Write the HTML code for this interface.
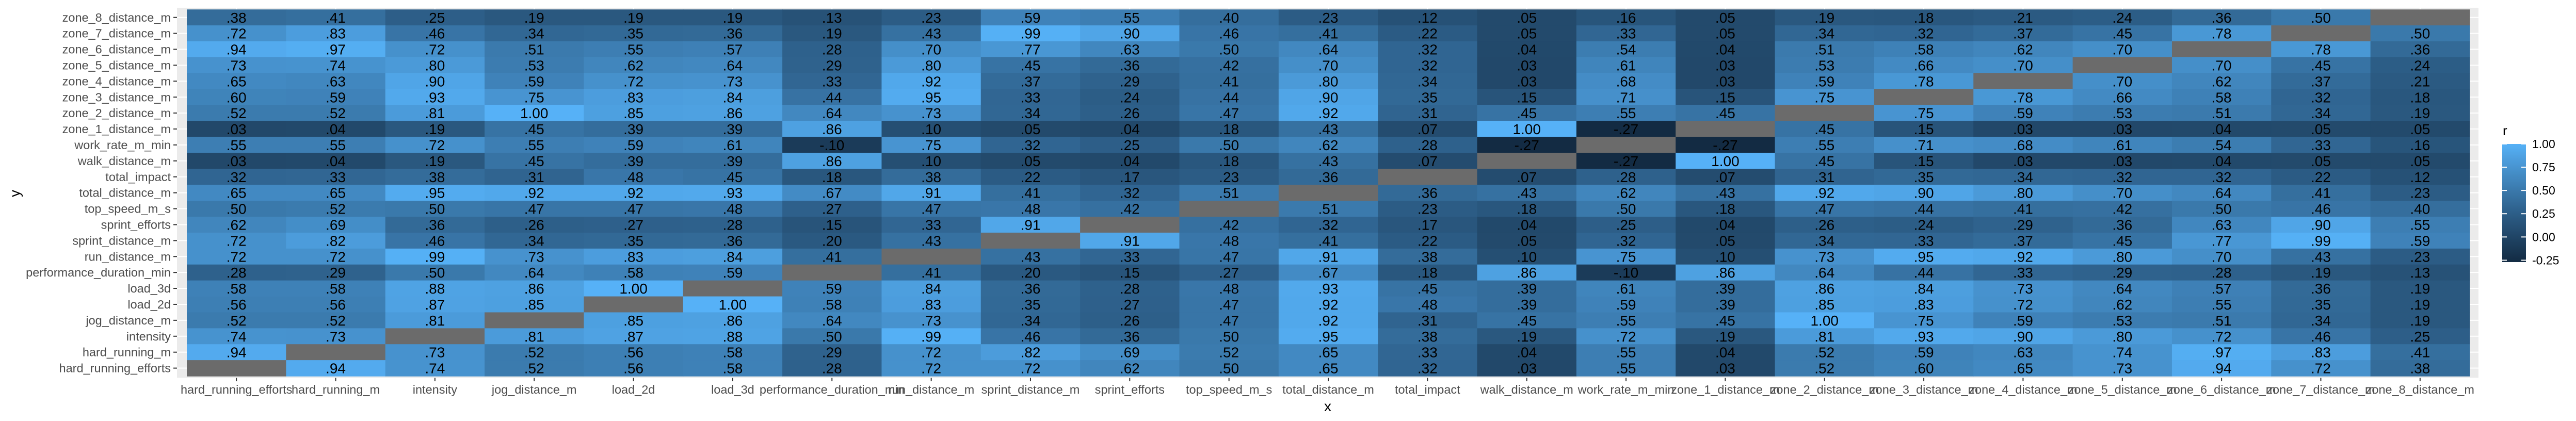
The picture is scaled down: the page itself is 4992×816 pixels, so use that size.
<!DOCTYPE html>
<html>
<head>
<meta charset="utf-8">
<style>
  html,body{margin:0;padding:0;background:#fff;}
  svg{display:block;}
  text{font-family:"Liberation Sans",sans-serif;}
</style>
</head>
<body>
<svg id="chart" width="4992" height="816" viewBox="0 0 4992 816" xmlns="http://www.w3.org/2000/svg">
  <rect x="0" y="0" width="4992" height="816" fill="#ffffff"/>
  <rect x="343" y="15" width="4460" height="717" fill="#EBEBEB"/>
  <g id="grid"></g>
  <g id="tiles"></g>
  <g id="labels"></g>
  <g id="xaxis"></g>
  <g id="yaxis"></g>
  <text x="2573" y="797" font-size="28" fill="#000" text-anchor="middle">x</text>
  <text x="38" y="375" font-size="28" fill="#000" text-anchor="middle" transform="rotate(-90 38 375)">y</text>
  <g id="legend">
    <text x="4850" y="262" font-size="26" fill="#000">r</text>
    <defs>
      <linearGradient id="lg" x1="0" y1="1" x2="0" y2="0"></linearGradient>
    </defs>
    <rect id="legendBar" x="4849" y="279" width="46" height="229" fill="url(#lg)"/>
  </g>
</svg>
<script>
const xLabels = ["hard_running_efforts","hard_running_m","intensity","jog_distance_m","load_2d","load_3d","performance_duration_min","run_distance_m","sprint_distance_m","sprint_efforts","top_speed_m_s","total_distance_m","total_impact","walk_distance_m","work_rate_m_min","zone_1_distance_m","zone_2_distance_m","zone_3_distance_m","zone_4_distance_m","zone_5_distance_m","zone_6_distance_m","zone_7_distance_m","zone_8_distance_m"];
const yLabels = ["zone_8_distance_m","zone_7_distance_m","zone_6_distance_m","zone_5_distance_m","zone_4_distance_m","zone_3_distance_m","zone_2_distance_m","zone_1_distance_m","work_rate_m_min","walk_distance_m","total_impact","total_distance_m","top_speed_m_s","sprint_efforts","sprint_distance_m","run_distance_m","performance_duration_min","load_3d","load_2d","jog_distance_m","intensity","hard_running_m","hard_running_efforts"];
const rowZone8 = [.38,.41,.25,.19,.19,.19,.13,.23,.59,.55,.40,.23,.12,.05,.16,.05,.19,.18,.21,.24,.36,.50,null];
const rowZone7 = [.72,.83,.46,.34,.35,.36,.19,.43,.99,.90,.46,.41,.22,.05,.33,.05,.34,.32,.37,.45,.78,null,.50];
const rowZone6 = [.94,.97,.72,.51,.55,.57,.28,.70,.77,.63,.50,.64,.32,.04,.54,.04,.51,.58,.62,.70,null,.78,.36];
const rowZone5 = [.73,.74,.80,.53,.62,.64,.29,.80,.45,.36,.42,.70,.32,.03,.61,.03,.53,.66,.70,null,.70,.45,.24];
const rowZone4 = [.65,.63,.90,.59,.72,.73,.33,.92,.37,.29,.41,.80,.34,.03,.68,.03,.59,.78,null,.70,.62,.37,.21];
const rowZone3 = [.60,.59,.93,.75,.83,.84,.44,.95,.33,.24,.44,.90,.35,.15,.71,.15,.75,null,.78,.66,.58,.32,.18];
const rowZone2 = [.52,.52,.81,1.00,.85,.86,.64,.73,.34,.26,.47,.92,.31,.45,.55,.45,null,.75,.59,.53,.51,.34,.19];
const rowZone1 = [.03,.04,.19,.45,.39,.39,.86,.10,.05,.04,.18,.43,.07,1.00,-.27,null,.45,.15,.03,.03,.04,.05,.05];
const rowWorkRate = [.55,.55,.72,.55,.59,.61,-.10,.75,.32,.25,.50,.62,.28,-.27,null,-.27,.55,.71,.68,.61,.54,.33,.16];
const rowWalk = [.03,.04,.19,.45,.39,.39,.86,.10,.05,.04,.18,.43,.07,null,-.27,1.00,.45,.15,.03,.03,.04,.05,.05];
const rowTotalImpact = [.32,.33,.38,.31,.48,.45,.18,.38,.22,.17,.23,.36,null,.07,.28,.07,.31,.35,.34,.32,.32,.22,.12];
const rowTotalDistance = [.65,.65,.95,.92,.92,.93,.67,.91,.41,.32,.51,null,.36,.43,.62,.43,.92,.90,.80,.70,.64,.41,.23];
const rowTopSpeed = [.50,.52,.50,.47,.47,.48,.27,.47,.48,.42,null,.51,.23,.18,.50,.18,.47,.44,.41,.42,.50,.46,.40];
const rowSprintEfforts = [.62,.69,.36,.26,.27,.28,.15,.33,.91,null,.42,.32,.17,.04,.25,.04,.26,.24,.29,.36,.63,.90,.55];
const rowSprintDistance = [.72,.82,.46,.34,.35,.36,.20,.43,null,.91,.48,.41,.22,.05,.32,.05,.34,.33,.37,.45,.77,.99,.59];
const rowRunDistance = [.72,.72,.99,.73,.83,.84,.41,null,.43,.33,.47,.91,.38,.10,.75,.10,.73,.95,.92,.80,.70,.43,.23];
const rowPerfDuration = [.28,.29,.50,.64,.58,.59,null,.41,.20,.15,.27,.67,.18,.86,-.10,.86,.64,.44,.33,.29,.28,.19,.13];
const rowLoad3d = [.58,.58,.88,.86,1.00,null,.59,.84,.36,.28,.48,.93,.45,.39,.61,.39,.86,.84,.73,.64,.57,.36,.19];
const rowLoad2d = [.56,.56,.87,.85,null,1.00,.58,.83,.35,.27,.47,.92,.48,.39,.59,.39,.85,.83,.72,.62,.55,.35,.19];
const rowJog = [.52,.52,.81,null,.85,.86,.64,.73,.34,.26,.47,.92,.31,.45,.55,.45,1.00,.75,.59,.53,.51,.34,.19];
const rowIntensity = [.74,.73,null,.81,.87,.88,.50,.99,.46,.36,.50,.95,.38,.19,.72,.19,.81,.93,.90,.80,.72,.46,.25];
const rowHardRunningM = [.94,null,.73,.52,.56,.58,.29,.72,.82,.69,.52,.65,.33,.04,.55,.04,.52,.59,.63,.74,.97,.83,.41];
const rowHardRunningEfforts = [null,.94,.74,.52,.56,.58,.28,.72,.72,.62,.50,.65,.32,.03,.55,.03,.52,.60,.65,.73,.94,.72,.38];
const legendBreaks = [-0.25,0,0.25,0.5,0.75,1];
const legendLabels = ["-0.25","0.00","0.25","0.50","0.75","1.00"];

const rows = [rowZone8,rowZone7,rowZone6,rowZone5,rowZone4,rowZone3,rowZone2,rowZone1,rowWorkRate,rowWalk,rowTotalImpact,rowTotalDistance,rowTopSpeed,rowSprintEfforts,rowSprintDistance,rowRunDistance,rowPerfDuration,rowLoad3d,rowLoad2d,rowJog,rowIntensity,rowHardRunningM,rowHardRunningEfforts];

const NS = "http://www.w3.org/2000/svg";
const X0 = 362, X1 = 4786, Y0 = 18.3, Y1 = 729;
const cw = (X1 - X0) / xLabels.length, ch = (Y1 - Y0) / yLabels.length;
function xPos(i){ return X0 + i * cw; }
function yPos(j){ return Y0 + j * ch; }

let vmin = Infinity, vmax = -Infinity;
rows.forEach(r => r.forEach(v => { if (v !== null) { vmin = Math.min(vmin, v); vmax = Math.max(vmax, v); } }));

// Lab interpolation (ggplot default gradient #132B43 -> #56B1F7)
function srgbToLin(c){ c/=255; return c<=0.04045? c/12.92 : Math.pow((c+0.055)/1.055,2.4); }
function linToSrgb(c){ c = c<=0.0031308? 12.92*c : 1.055*Math.pow(c,1/2.4)-0.055; return Math.max(0,Math.min(255,Math.round(c*255))); }
function hexToLab(h){
  const r=srgbToLin(parseInt(h.substr(1,2),16)), g=srgbToLin(parseInt(h.substr(3,2),16)), b=srgbToLin(parseInt(h.substr(5,2),16));
  let X=(0.4124*r+0.3576*g+0.1805*b)/0.95047, Y=(0.2126*r+0.7152*g+0.0722*b), Z=(0.0193*r+0.1192*g+0.9505*b)/1.08883;
  const f=t=> t>0.008856? Math.cbrt(t) : 7.787*t+16/116;
  const fx=f(X), fy=f(Y), fz=f(Z);
  return [116*fy-16, 500*(fx-fy), 200*(fy-fz)];
}
function labToHex(L,a,b){
  const fy=(L+16)/116, fx=fy+a/500, fz=fy-b/200;
  const fi=t=> t*t*t>0.008856? t*t*t : (t-16/116)/7.787;
  const X=fi(fx)*0.95047, Y=fi(fy), Z=fi(fz)*1.08883;
  const r=3.2406*X-1.5372*Y-0.4986*Z, g=-0.9689*X+1.8758*Y+0.0415*Z, bb=0.0557*X-0.2040*Y+1.0570*Z;
  return "rgb("+linToSrgb(r)+","+linToSrgb(g)+","+linToSrgb(bb)+")";
}
const LOW = hexToLab("#132B43"), HIGH = hexToLab("#56B1F7");
function colorFor(v){
  const t = Math.max(0, Math.min(1, (v - vmin) / (vmax - vmin)));
  return labToHex(LOW[0]+(HIGH[0]-LOW[0])*t, LOW[1]+(HIGH[1]-LOW[1])*t, LOW[2]+(HIGH[2]-LOW[2])*t);
}
function fmt(v){
  let s = v.toFixed(2);
  if (s.startsWith("0.")) s = s.substring(1);
  else if (s.startsWith("-0.")) s = "-" + s.substring(2);
  return s;
}

const grid = document.getElementById("grid");
xLabels.forEach((lab, i) => {
  const l = document.createElementNS(NS, "line");
  l.setAttribute("x1", xPos(i) + cw/2); l.setAttribute("x2", xPos(i) + cw/2);
  l.setAttribute("y1", 15); l.setAttribute("y2", 732);
  l.setAttribute("stroke", "#fff"); l.setAttribute("stroke-width", "2");
  
  
  grid.appendChild(l);
});
yLabels.forEach((lab, j) => {
  const l = document.createElementNS(NS, "line");
  l.setAttribute("x1", 343); l.setAttribute("x2", 4803);
  l.setAttribute("y1", yPos(j) + ch/2); l.setAttribute("y2", yPos(j) + ch/2);
  l.setAttribute("stroke", "#fff"); l.setAttribute("stroke-width", "2");
  
  
  grid.appendChild(l);
});

const tiles = document.getElementById("tiles");
const labels = document.getElementById("labels");
rows.forEach((row, j) => {
  row.forEach((v, i) => {
    const r = document.createElementNS(NS, "rect");
    r.setAttribute("x", xPos(i)); r.setAttribute("y", yPos(j));
    r.setAttribute("width", cw + 0.6); r.setAttribute("height", ch + 0.6);
    r.setAttribute("fill", v === null ? "#6B6B6B" : colorFor(v));
    
    
    tiles.appendChild(r);
    if (v !== null) {
      const t = document.createElementNS(NS, "text");
      t.setAttribute("x", xPos(i) + cw/2); t.setAttribute("y", yPos(j) + ch/2 + 10);
      t.setAttribute("text-anchor", "middle"); t.setAttribute("font-size", "28");
      t.setAttribute("fill", "#000");
      t.textContent = fmt(v);
      
      
      labels.appendChild(t);
    }
  });
});

const xa = document.getElementById("xaxis");
xLabels.forEach((lab, i) => {
  const cx = xPos(i) + cw/2;
  const tk = document.createElementNS(NS, "line");
  tk.setAttribute("x1", cx); tk.setAttribute("x2", cx); tk.setAttribute("y1", 732); tk.setAttribute("y2", 739);
  tk.setAttribute("stroke", "#333"); tk.setAttribute("stroke-width", "2");
  
  
  xa.appendChild(tk);
  const t = document.createElementNS(NS, "text");
  t.setAttribute("x", cx); t.setAttribute("y", 763);
  t.setAttribute("text-anchor", "middle"); t.setAttribute("font-size", "23.5"); t.setAttribute("fill", "#4D4D4D");
  t.textContent = lab;
  
  
  xa.appendChild(t);
});
const ya = document.getElementById("yaxis");
yLabels.forEach((lab, j) => {
  const cy = yPos(j) + ch/2;
  const tk = document.createElementNS(NS, "line");
  tk.setAttribute("x1", 336); tk.setAttribute("x2", 343); tk.setAttribute("y1", cy); tk.setAttribute("y2", cy);
  tk.setAttribute("stroke", "#333"); tk.setAttribute("stroke-width", "2");
  
  
  ya.appendChild(tk);
  const t = document.createElementNS(NS, "text");
  t.setAttribute("x", 331); t.setAttribute("y", cy + 8);
  t.setAttribute("text-anchor", "end"); t.setAttribute("font-size", "23.5"); t.setAttribute("fill", "#4D4D4D");
  t.textContent = lab;
  
  
  ya.appendChild(t);
});

// legend
const lg = document.getElementById("lg");
for (let k = 0; k <= 20; k++) {
  const v = vmin + (vmax - vmin) * k / 20;
  const s = document.createElementNS(NS, "stop");
  s.setAttribute("offset", (k/20*100) + "%");
  s.setAttribute("stop-color", colorFor(v));
  lg.appendChild(s);
}
const legend = document.getElementById("legend");
const LB_TOP = 279, LB_BOT = 508;
function legendY(v){ return LB_BOT - (v - vmin) / (vmax - vmin) * (LB_BOT - LB_TOP); }
legendBreaks.forEach((b, k) => {
  const y = legendY(b);
  [[4849,4858],[4886,4895]].forEach(seg => {
    const l = document.createElementNS(NS, "line");
    l.setAttribute("x1", seg[0]); l.setAttribute("x2", seg[1]); l.setAttribute("y1", y); l.setAttribute("y2", y);
    l.setAttribute("stroke", "#fff"); l.setAttribute("stroke-width", "2");
    
    
    legend.appendChild(l);
  });
  const t = document.createElementNS(NS, "text");
  t.setAttribute("x", 4907); t.setAttribute("y", y + 8);
  t.setAttribute("font-size", "23"); t.setAttribute("fill", "#000");
  t.textContent = legendLabels[k];
  
  
  legend.appendChild(t);
});
</script>
</body>
</html>
